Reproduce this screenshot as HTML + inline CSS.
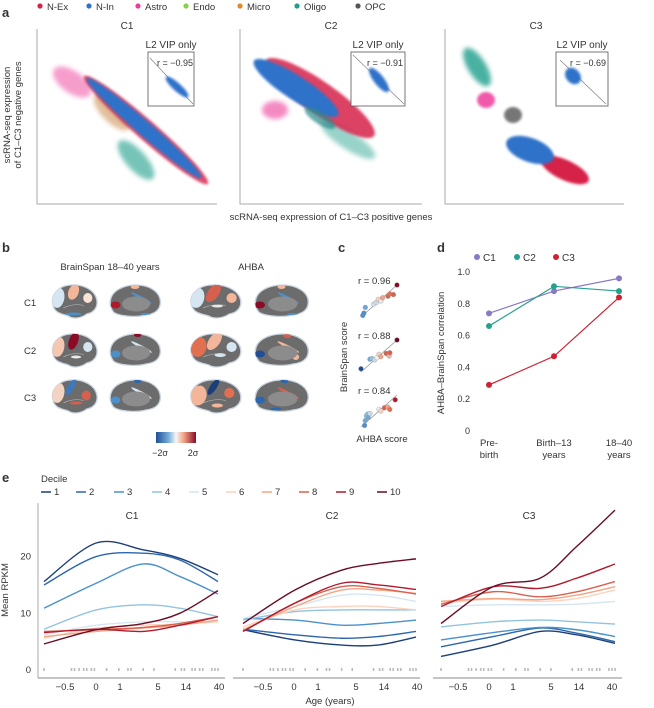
<!DOCTYPE html>
<html><head><meta charset="utf-8"><style>
html,body{margin:0;padding:0;background:#fff;}
svg{display:block;font-family:"Liberation Sans",sans-serif;}
text{fill:#333;}
</style></head><body>
<svg id="fig" width="654" height="708" viewBox="0 0 654 708">
<defs>
<filter id="blur" x="-50%" y="-50%" width="200%" height="200%"><feGaussianBlur stdDeviation="2.5"/></filter>
<filter id="blur2" x="-50%" y="-50%" width="200%" height="200%"><feGaussianBlur stdDeviation="1.2"/></filter>
<linearGradient id="cbar" x1="0" x2="1" y1="0" y2="0">
<stop offset="0" stop-color="#1f4f96"/><stop offset="0.3" stop-color="#6fa8d6"/><stop offset="0.5" stop-color="#f7f7f7"/><stop offset="0.7" stop-color="#f0a081"/><stop offset="1" stop-color="#8b0a26"/></linearGradient>
</defs>

<!-- Panel a -->
<g>
<text x="2" y="17" font-size="13" font-weight="bold" fill="#000">a</text>
<g font-size="9.5">
<circle cx="40" cy="6" r="2.6" fill="#d6234a"/><text x="47" y="10">N-Ex</text>
<circle cx="89" cy="6" r="2.6" fill="#2f72c9"/><text x="96" y="10">N-In</text>
<circle cx="138" cy="6" r="2.6" fill="#ee3c9b"/><text x="145" y="10">Astro</text>
<circle cx="186" cy="6" r="2.6" fill="#86d24a"/><text x="193" y="10">Endo</text>
<circle cx="240" cy="6" r="2.6" fill="#e08a2c"/><text x="247" y="10">Micro</text>
<circle cx="297" cy="6" r="2.6" fill="#1f9e8a"/><text x="304" y="10">Oligo</text>
<circle cx="358" cy="6" r="2.6" fill="#555"/><text x="365" y="10">OPC</text>
</g>
<g font-size="10" text-anchor="middle">
<text x="127" y="29">C1</text>
<text x="331" y="29">C2</text>
<text x="536" y="29">C3</text>
<text x="331" y="220" font-size="9.5">scRNA-seq expression of C1–C3 positive genes</text>
<text transform="translate(10,115) rotate(-90)" font-size="9.5">scRNA-seq expression</text>
<text transform="translate(21,115) rotate(-90)" font-size="9.5">of C1–C3 negative genes</text>
</g>
<g stroke="#aaa" stroke-width="1" fill="none">
<path d="M37,29 V204 H217"/><path d="M240,29 V204 H422"/><path d="M445,29 V204 H624"/>
</g>
<!-- C1 clouds -->
<g>
<ellipse cx="72" cy="82" rx="22" ry="11" transform="rotate(35 72 82)" fill="#ee3c9b" opacity="0.5" filter="url(#blur)"/>
<ellipse cx="112" cy="112" rx="24" ry="10" transform="rotate(45 112 112)" fill="#c98a4a" opacity="0.55" filter="url(#blur)"/>
<ellipse cx="136" cy="160" rx="25" ry="10" transform="rotate(48 136 160)" fill="#1f9e8a" opacity="0.6" filter="url(#blur)"/>
<ellipse cx="146" cy="130" rx="82" ry="10" transform="rotate(41 146 130)" fill="#d6234a" opacity="0.8" filter="url(#blur2)"/>
<ellipse cx="144" cy="128" rx="76" ry="7.5" transform="rotate(41 144 128)" fill="#2f72c9" filter="url(#blur2)"/>
</g>
<g>
<ellipse cx="275" cy="110" rx="13" ry="9" fill="#ee3c9b" opacity="0.6" filter="url(#blur)"/>
<ellipse cx="348" cy="140" rx="32" ry="9" transform="rotate(33 348 140)" fill="#1f9e8a" opacity="0.45" filter="url(#blur)"/>
<ellipse cx="320" cy="98" rx="66" ry="16" transform="rotate(35 320 98)" fill="#d6234a" opacity="0.85" filter="url(#blur2)"/>
<ellipse cx="296" cy="88" rx="50" ry="12" transform="rotate(33 296 88)" fill="#2f72c9" filter="url(#blur2)"/>
<ellipse cx="320" cy="118" rx="18" ry="6" transform="rotate(33 320 118)" fill="#2a8a8a" opacity="0.7" filter="url(#blur2)"/>
</g>
<g>
<ellipse cx="477" cy="67" rx="22" ry="9" transform="rotate(58 477 67)" fill="#1f9e8a" opacity="0.8" filter="url(#blur)"/>
<ellipse cx="486" cy="100" rx="9" ry="8" fill="#ee3c9b" opacity="0.85" filter="url(#blur2)"/>
<ellipse cx="513" cy="115" rx="9" ry="8" fill="#555" opacity="0.8" filter="url(#blur2)"/>
<ellipse cx="565" cy="170" rx="26" ry="10" transform="rotate(25 565 170)" fill="#d6234a" filter="url(#blur2)"/>
<ellipse cx="530" cy="150" rx="25" ry="12" transform="rotate(20 530 150)" fill="#2f72c9" filter="url(#blur2)"/>
</g>
<!-- insets -->
<g>
<text x="171" y="48" font-size="10" text-anchor="middle">L2 VIP only</text>
<rect x="148" y="52" width="46" height="54" fill="#fff" stroke="#555" stroke-width="0.8"/>
<line x1="150" y1="58" x2="193" y2="104" stroke="#777" stroke-width="0.6"/>
<ellipse cx="177" cy="87" rx="15" ry="4" transform="rotate(42 177 87)" fill="#2f72c9" filter="url(#blur2)"/>
<text x="193" y="66" font-size="9" text-anchor="end">r = −0.95</text>
</g>
<g>
<text x="378" y="48" font-size="10" text-anchor="middle">L2 VIP only</text>
<rect x="351" y="52" width="54" height="54" fill="#fff" stroke="#555" stroke-width="0.8"/>
<line x1="353" y1="55" x2="404" y2="104" stroke="#777" stroke-width="0.6"/>
<ellipse cx="379" cy="80" rx="15" ry="5" transform="rotate(52 379 80)" fill="#2f72c9" filter="url(#blur2)"/>
<text x="403" y="66" font-size="9" text-anchor="end">r = −0.91</text>
</g>
<g>
<text x="582" y="48" font-size="10" text-anchor="middle">L2 VIP only</text>
<rect x="556" y="52" width="52" height="54" fill="#fff" stroke="#555" stroke-width="0.8"/>
<line x1="560" y1="60" x2="606" y2="104" stroke="#777" stroke-width="0.6"/>
<ellipse cx="573" cy="76" rx="9" ry="7" transform="rotate(50 573 76)" fill="#2f72c9" filter="url(#blur2)"/>
<text x="606" y="66" font-size="9" text-anchor="end">r = −0.69</text>
</g>
</g>

<!-- Panel b -->
<g>
<text x="2" y="252" font-size="13" font-weight="bold" fill="#000">b</text>
<text x="110" y="270" font-size="9.5" text-anchor="middle">BrainSpan 18–40 years</text>
<text x="251" y="270" font-size="9.5" text-anchor="middle">AHBA</text>
<text x="24" y="306" font-size="9.5">C1</text>
<text x="24" y="354" font-size="9.5">C2</text>
<text x="24" y="401" font-size="9.5">C3</text>
<g id="brains"></g>
<rect x="156" y="432" width="40" height="11" fill="url(#cbar)"/>
<text x="160" y="456" font-size="9" text-anchor="middle">−2σ</text>
<text x="193" y="456" font-size="9" text-anchor="middle">2σ</text>
</g>

<!-- Panel c -->
<g>
<text x="338" y="252" font-size="13" font-weight="bold" fill="#000">c</text>
<text transform="translate(347,357) rotate(-90)" font-size="9.5" text-anchor="middle">BrainSpan score</text>
<text x="382" y="442" font-size="9.5" text-anchor="middle">AHBA score</text>
<g id="cplots"></g>
</g>

<!-- Panel d -->
<g>
<text x="437" y="252" font-size="13" font-weight="bold" fill="#000">d</text>
<text transform="translate(444,353) rotate(-90)" font-size="9.5" text-anchor="middle">AHBA–BrainSpan correlation</text>
<g id="dchart"></g>
</g>

<!-- Panel e -->
<g>
<text x="2" y="482" font-size="13" font-weight="bold" fill="#000">e</text>
<text x="41" y="482" font-size="9.5">Decile</text>
<text transform="translate(8,590) rotate(-90)" font-size="9.5" text-anchor="middle">Mean RPKM</text>
<text x="330" y="704" font-size="9.5" text-anchor="middle">Age (years)</text>
<g id="echart"></g>
</g>
</svg>
<script>
var NS = "http://www.w3.org/2000/svg";
function mk(tag, attrs, parent) { var e = document.createElementNS(NS, tag); for (var k in attrs) e.setAttribute(k, attrs[k]); parent.appendChild(e); return e; }

/* ---------- Panel d data ---------- */
var dCategories = ["Pre-birth", "Birth–13 years", "18–40 years"];
var dSeriesNames = ["C1", "C2", "C3"];
var dC1 = [0.74, 0.88, 0.96];
var dC2 = [0.66, 0.91, 0.88];
var dC3 = [0.29, 0.47, 0.84];
var dTicks = [0, 0.2, 0.4, 0.6, 0.8, 1.0];

/* ---------- Panel e data ---------- */
var eDeciles = ["1","2","3","4","5","6","7","8","9","10"];
var eTickLabels = ["−0.5", "0", "1", "5", "14", "40"];
var eYTicks = [0, 10, 20];
var eSampleFrac = [0, 0.3, 0.57, 0.78, 1];
var eC1 = [
 [15.6,22.4,21.2,19.7,16.8],[15,20,20.6,19.4,15.6],[10.9,15.3,18.7,16.5,13.4],[7.2,10.6,11.5,10.9,9.4],[6.2,7.9,8.5,8.5,8.5],
 [5.6,7.4,7.9,8.1,8.5],[5.9,6.8,7.4,7.9,8.8],[6.8,7.1,7.5,8.2,9.4],[6.6,7.2,6.8,7.9,9.4],[4.6,7.1,8.2,10,14]];
var eC2 = [
 [7.1,5.3,4.4,4.4,5.8],[7.2,6.2,5.6,5.9,6.8],[9.1,8.8,7.9,8.2,8.8],[8.8,10.3,10.6,10.6,10.6],[9.1,11.2,13.2,13.2,12.1],
 [7.6,10.6,11.2,11.2,10.6],[7.1,11.2,14.1,14.1,13.5],[6.8,11.8,14.7,14.4,13.4],[6.8,11.8,15.3,15,14.2],[8.2,14.1,17.6,18.8,19.6]];
var eC3 = [
 [2.4,4.4,6.8,6.2,4.7],[4.1,5.9,7.4,6.5,5],[5.3,6.6,7.5,7.1,5.9],[7.6,8.5,8.8,8.5,8.1],[11.2,11.5,11.5,11.6,12.1],
 [11.8,12.5,12.1,12.6,14.1],[12.1,12.6,12.4,13.2,14.7],[11.6,13.8,12.9,13.8,15.6],[11.2,14.7,14.4,16.2,18.7],[8.2,14.7,16.2,21.8,28.2]];
var eSampleDots = [0, 0.18, 0.2, 0.23, 0.26, 0.28, 0.31, 0.33, 0.41, 0.49, 0.55, 0.57, 0.65, 0.72, 0.86, 0.9, 0.92, 0.97, 0.99, 1.02, 1.04, 1.1, 1.12, 1.14];

/* ---------- Panel c data ---------- */
var cR = ["0.96", "0.88", "0.84"];
var cX1 = [0.05,0.08,0.12,0.35,0.42,0.48,0.55,0.6,0.75,0.8,0.9,1.0];
var cY1 = [0.05,0.12,0.3,0.4,0.45,0.55,0.5,0.6,0.65,0.72,0.7,1.0];
var cX2 = [0.0,0.25,0.3,0.38,0.45,0.5,0.55,0.7,0.78,0.8,1.0];
var cY2 = [0.1,0.4,0.42,0.38,0.45,0.55,0.48,0.58,0.5,0.6,1.0];
var cX3 = [0.1,0.12,0.15,0.18,0.2,0.25,0.5,0.55,0.65,0.75,0.8,0.95];
var cY3 = [0.05,0.2,0.35,0.4,0.3,0.42,0.55,0.5,0.6,0.62,0.55,0.85];
var cCol1 = ["#4a8fcb","#4a8fcb","#6fa8d6","#d3e5f0","#c9dbe9","#f9d2bd","#e9e9e9","#f3a282","#d6604d","#e07050","#d6604d","#8b0a26"];
var cCol2 = ["#1f4f96","#6fa8d6","#90c1de","#c9dbe9","#f3f3f3","#f9d2bd","#f3a282","#d6604d","#e9b9a0","#d6604d","#6d0a26"];
var cCol3 = ["#4a8fcb","#6fa8d6","#90c1de","#90c1de","#6fa8d6","#c9dbe9","#f0f0f0","#f9d2bd","#d6604d","#f3a282","#e07050","#b2182b"];

var decileColors = ["#1c3f7a","#2c66ad","#4a91cc","#93c3df","#d6e6f1","#fbd3bf","#f4a583","#d8614f","#b3192c","#6b0b24"];

/* ---------- Panel d draw ---------- */
(function(){
  var g = document.getElementById("dchart");
  function dx(i){ return 489 + i*65; }
  function dy(v){ return 431 - v*159; }
  for (var i=0;i<dTicks.length;i++){
    var t = mk("text",{x:470,y:dy(dTicks[i])+3,"font-size":9,"text-anchor":"end"},g);
    t.textContent = dTicks[i]===0 ? "0" : dTicks[i].toFixed(1);
    
    
  }
  var xl = [["Pre-","birth"],["Birth–13","years"],["18–40","years"]];
  for (var i=0;i<dCategories.length;i++){
    var t = mk("text",{x:dx(i),y:446,"font-size":9.5,"text-anchor":"middle"},g);
    t.textContent = xl[i][0];
    
    
    var t2 = mk("text",{x:dx(i),y:458,"font-size":9.5,"text-anchor":"middle"},g);
    t2.textContent = xl[i][1];
    
    
  }
  var series = [dC1,dC2,dC3], cols=["#8a78c4","#27a08f","#cf2032"], lx=[477,517,556];
  for (var s=0;s<3;s++){
    var pts = series[s].map(function(v,i){return dx(i)+","+dy(v);}).join(" ");
    var pl = mk("polyline",{points:pts,fill:"none",stroke:cols[s],"stroke-width":1.2},g);
    
    
    for (var i=0;i<series[s].length;i++){
      var c = mk("circle",{cx:dx(i),cy:dy(series[s][i]),r:3,fill:cols[s]},g);
      
      
    }
    var lc = mk("circle",{cx:lx[s],cy:257,r:3,fill:cols[s]},g);
    
    
    var lt = mk("text",{x:lx[s]+6,y:261,"font-size":10},g);
    lt.textContent = dSeriesNames[s];
    
    
  }
})();

/* ---------- Panel e draw ---------- */
(function(){
  var g = document.getElementById("echart");
  function ey(v){ return 670 - v*5.67; }
  var panels = [{x0:44,x1:218,ax0:38,ax1:225,data:eC1,name:"C1",tx:132,shift:0},
                {x0:243,x1:416,ax0:233,ax1:420,data:eC2,name:"C2",tx:332,shift:198},
                {x0:441,x1:615,ax0:433,ax1:622,data:eC3,name:"C3",tx:529,shift:393}];
  var tickX = [65,96,120,158,186,219];
  // legend
  var legX = [57,92,130,168,205,242,278,315,352,393];
  for (var d=0; d<10; d++){
    var ll = mk("line",{x1:legX[d]-16,x2:legX[d]-6,y1:492,y2:492,stroke:decileColors[d],"stroke-width":1.5},g);
    
    
    var lt = mk("text",{x:legX[d]-3,y:495,"font-size":9.5},g);
    lt.textContent = eDeciles[d];
    
    
  }
  var yax = mk("line",{x1:38,x2:38,y1:503,y2:678,stroke:"#aaa","stroke-width":1},g);
  
  
  for (var i=0;i<eYTicks.length;i++){
    var t = mk("text",{x:31,y:ey(eYTicks[i])+3,"font-size":9.5,"text-anchor":"end"},g);
    t.textContent = eYTicks[i];
    
    
  }
  panels.forEach(function(p){
    var ax = mk("line",{x1:p.ax0,x2:p.ax1,y1:678,y2:678,stroke:"#888","stroke-width":1},g);
    
    
    var tt = mk("text",{x:p.tx,y:519,"font-size":10,"text-anchor":"middle"},g);
    tt.textContent = p.name;
    
    
    for (var i=0;i<eTickLabels.length;i++){
      var t = mk("text",{x:tickX[i]+p.shift,y:690,"font-size":9.5,"text-anchor":"middle"},g);
      t.textContent = eTickLabels[i];
      
      
    }
    for (var i=0;i<eSampleDots.length;i++){
      var sx = p.x0 + eSampleDots[i]/1.14*(p.x1-p.x0);
      var sd = mk("rect",{x:sx-0.8,y:668,width:1.6,height:3,fill:"#bbb"},g);
      
      
    }
    for (var d=0; d<10; d++){
      var vals = p.data[d];
      var pts = vals.map(function(v,i){return [p.x0+eSampleFrac[i]*(p.x1-p.x0), ey(v)];});
      var path = "M"+pts[0][0]+","+pts[0][1];
      for (var i=0;i<pts.length-1;i++){
        var p0=pts[Math.max(0,i-1)], p1=pts[i], p2=pts[i+1], p3=pts[Math.min(pts.length-1,i+2)];
        var c1x=p1[0]+(p2[0]-p0[0])/6, c1y=p1[1]+(p2[1]-p0[1])/6;
        var c2x=p2[0]-(p3[0]-p1[0])/6, c2y=p2[1]-(p3[1]-p1[1])/6;
        path += " C"+c1x+","+c1y+" "+c2x+","+c2y+" "+p2[0]+","+p2[1];
      }
      var pe = mk("path",{d:path,fill:"none",stroke:decileColors[d],"stroke-width":1.4},g);
      
      
    }
  });
})();

/* ---------- Panel c draw ---------- */
(function(){
  var g = document.getElementById("cplots");
  var Xs=[cX1,cX2,cX3], Ys=[cY1,cY2,cY3], Cs=[cCol1,cCol2,cCol3], tops=[285,340,395];
  for (var k=0;k<3;k++){
    var x0=361, w=36, y0=tops[k], h=32;
    var ln = mk("line",{x1:x0,y1:y0+h,x2:x0+w,y2:y0,stroke:"#999","stroke-width":0.8},g);
    
    
    for (var i=0;i<Xs[k].length;i++){
      var c = mk("circle",{cx:x0+Xs[k][i]*w,cy:y0+h-Ys[k][i]*h,r:2.4,fill:Cs[k][i],stroke:"#999","stroke-width":0.4},g);
      
      
    }
    var t = mk("text",{x:358,y:tops[k]-1,"font-size":9.5},g);
    t.textContent = "r = "+cR[k];
    
    
  }
})();

/* ---------- Panel b brains ---------- */
(function(){
  var g = document.getElementById("brains");
  var lat = "M10,45 C4,25 20,5 45,4 C70,2 93,15 96,35 C98,50 88,60 76,62 C66,70 50,73 40,66 C30,62 14,62 10,45 Z";
  var med = "M4,40 C4,15 30,3 55,4 C80,5 98,20 97,40 C96,55 86,62 70,64 C55,69 20,67 10,58 C6,52 4,46 4,40 Z";
  var cols = ["#48d","#b2182b","#f4a583","#fbd3bf","#d6e6f1","#2c66ad","#8b0a26","#92c5de"];
  // patches: [brainType, cx, cy, rx, ry, rot, color] in 100x70 units
  var patches = [
   // row1
   [[0,20,30,12,20,10,"#d6e6f1"],[0,50,18,10,16,20,"#f4b69a"],[0,78,30,9,10,0,"#fbe3d5"],[0,50,62,16,3,0,"#4a91cc"]],
   [[1,14,44,9,7,0,"#b2182b"],[1,62,30,22,3,30,"#4a91cc"],[1,50,8,8,4,0,"#f4b69a"],[1,70,62,10,2,0,"#4a91cc"]],
   [[0,20,30,12,20,10,"#d6e6f1"],[0,48,20,10,20,30,"#d6604d"],[0,80,30,9,10,0,"#f4b69a"],[0,55,46,10,3,0,"#e9e9e9"]],
   [[1,12,44,9,7,0,"#8b0a26"],[1,62,30,22,3,30,"#4a91cc"],[1,50,8,7,4,0,"#f4b69a"],[1,70,62,10,2,0,"#4a91cc"]],
   // row2
   [[0,20,30,12,20,10,"#f4c7b0"],[0,50,18,9,18,20,"#8b0a26"],[0,78,30,9,10,0,"#d6e6f1"],[0,55,50,10,3,0,"#e9e9e9"]],
   [[1,14,44,9,7,0,"#4a91cc"],[1,62,30,22,3,30,"#d6e6f1"],[1,55,6,7,4,0,"#8b0a26"]],
   [[0,22,30,14,20,10,"#e07050"],[0,50,18,10,20,30,"#f4b69a"],[0,80,30,9,10,0,"#d6e6f1"],[0,60,46,10,4,0,"#d6e6f1"]],
   [[1,12,44,9,7,0,"#1f4f96"],[1,62,30,22,3,30,"#f4b69a"],[1,60,8,7,4,0,"#d6604d"],[1,75,50,6,6,0,"#f4b69a"]],
   // row3
   [[0,20,30,12,20,10,"#f4d3c2"],[0,45,18,6,18,30,"#3a7ac0"],[0,75,35,9,10,0,"#d6604d"],[0,55,50,12,3,0,"#d6604d"]],
   [[1,14,44,9,7,0,"#4a91cc"],[1,62,30,22,3,30,"#d6e6f1"],[1,55,6,7,4,0,"#2c66ad"]],
   [[0,22,35,14,20,10,"#f4b69a"],[0,48,18,6,18,30,"#1c3f7a"],[0,76,30,9,10,0,"#e07050"],[0,55,55,10,4,0,"#f4b69a"]],
   [[1,12,44,9,7,0,"#2c66ad"],[1,62,30,22,3,30,"#d6604d"],[1,55,6,7,4,0,"#2c66ad"],[1,40,62,10,3,0,"#2c66ad"]]
  ];
  var bx=[48,108,186,253], bw=[51,54,57,57], by=[283,332,378], bh=35;
  for (var r=0;r<3;r++){
    for (var c=0;c<4;c++){
      var gg = mk("g",{transform:"translate("+bx[c]+","+by[r]+") scale("+(bw[c]/100)+","+(bh/70)+")"},g);
      
      
      var type = c%2;
      var clipId = "clip"+r+"_"+c;
      var cp = mk("clipPath",{id:clipId},gg);
      mk("path",{d:type==0?lat:med},cp);
      mk("path",{d:type==0?lat:med,fill:"#6c6c6c",stroke:"#c8d4e0","stroke-width":2.5},gg);
      var inner = mk("g",{"clip-path":"url(#"+clipId+")"},gg);
      patches[r*4+c].forEach(function(p){
        mk("ellipse",{cx:p[1],cy:p[2],rx:p[3],ry:p[4],transform:"rotate("+p[5]+" "+p[1]+" "+p[2]+")",fill:p[6]},inner);
      });
      if (type==1) mk("ellipse",{cx:52,cy:42,rx:26,ry:15,fill:"#8c8c8c"},inner);
      else {
        mk("path",{d:"M30,50 Q50,40 70,45",fill:"none",stroke:"#bbb","stroke-width":1},inner);
      }
    }
  }
})();
</script>
</body></html>
